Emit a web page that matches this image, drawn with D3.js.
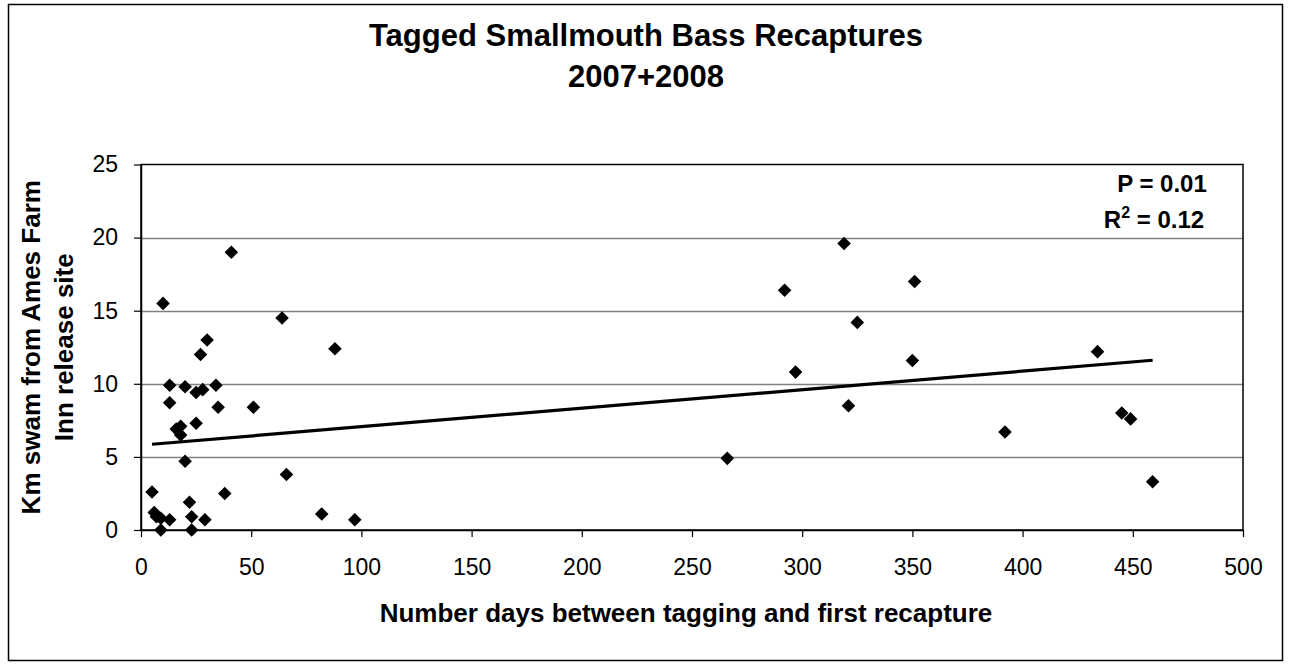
<!DOCTYPE html>
<html>
<head>
<meta charset="utf-8">
<script src="https://cdn.jsdelivr.net/npm/d3@7"></script>
<style>
  html, body { margin: 0; padding: 0; background: #fff; }
  svg { display: block; font-family: "Liberation Sans", Arial, sans-serif; }
</style>
</head>
<body>
<svg id="chart" width="1291" height="668"></svg>
<script>
// ---- data ----
const days = [41, 10, 30, 27, 13, 20, 25, 28, 34, 13, 35, 51, 25, 16, 18, 18, 20, 5, 22, 38,
              6, 7, 9, 13, 9, 23, 29, 23, 64, 66, 82, 97, 88,
              319, 292, 351, 325, 350, 297, 321, 266, 434, 392, 445, 449, 459];
const km   = [19.0, 15.5, 13.0, 12.0, 9.9, 9.8, 9.4, 9.6, 9.9, 8.7, 8.4, 8.4, 7.3, 6.9, 7.1, 6.5, 4.7, 2.6, 1.9, 2.5,
              1.2, 0.9, 0.8, 0.7, 0.0, 0.9, 0.7, 0.0, 14.5, 3.8, 1.1, 0.7, 12.4,
              19.6, 16.4, 17.0, 14.2, 11.6, 10.8, 8.5, 4.9, 12.2, 6.7, 8.0, 7.6, 3.3];
const xTicks = [0, 50, 100, 150, 200, 250, 300, 350, 400, 450, 500];
const yTicks = [0, 5, 10, 15, 20, 25];
const trendIntercept = 5.80;
const trendSlope = 0.01266;
const titleLines = ["Tagged Smallmouth Bass Recaptures", "2007+2008"];
const xTitle = "Number days between tagging and first recapture";
const yTitleLines = ["Km swam from Ames Farm", "Inn release site"];
const statP = "P = 0.01";

// ---- layout ----
const svg = d3.select("#chart");
const plot = { left: 141, right: 1243, top: 164.5, bottom: 530 };

const x = d3.scaleLinear().domain([0, 500]).range([plot.left, plot.right]);
const y = d3.scaleLinear().domain([0, 25]).range([plot.bottom, plot.top]);

// outer frame
svg.append("rect")
  .attr("x", 8.5).attr("y", 4.5).attr("width", 1274).attr("height", 656)
  .attr("fill", "#fff").attr("stroke", "#000").attr("stroke-width", 1.5);

// gridlines
svg.append("g").selectAll("line")
  .data(yTicks.filter(v => v > 0 && v < 25))
  .join("line")
  .attr("x1", plot.left).attr("x2", plot.right)
  .attr("y1", d => Math.round(y(d)) + 0.5).attr("y2", d => Math.round(y(d)) + 0.5)
  .attr("stroke", "#808080").attr("stroke-width", 1.5);

// plot border
svg.append("rect")
  .attr("x", plot.left).attr("y", plot.top)
  .attr("width", plot.right - plot.left).attr("height", plot.bottom - plot.top)
  .attr("fill", "none").attr("stroke", "#000").attr("stroke-width", 1.5);

// axes
const xAxis = svg.append("g")
  .attr("transform", `translate(0,${plot.bottom})`)
  .call(d3.axisBottom(x).tickValues(xTicks).tickSize(7).tickPadding(22).tickSizeOuter(0));
const yAxis = svg.append("g")
  .attr("transform", `translate(${plot.left},0)`)
  .call(d3.axisLeft(y).tickValues(yTicks).tickSize(7).tickPadding(16).tickSizeOuter(0));
[xAxis, yAxis].forEach(g => {
  g.select(".domain").attr("stroke", "#000").attr("stroke-width", 1.5);
  g.selectAll(".tick line").attr("stroke", "#000").attr("stroke-width", 1.2);
  g.selectAll(".tick text")
    .attr("font-family", "'Liberation Sans', Arial, sans-serif")
    .attr("font-size", 23).attr("fill", "#000");
});

// trendline
const tx = d3.extent(days);
svg.append("line")
  .attr("x1", x(tx[0])).attr("y1", y(trendIntercept + trendSlope * tx[0]))
  .attr("x2", x(tx[1])).attr("y2", y(trendIntercept + trendSlope * tx[1]))
  .attr("stroke", "#000").attr("stroke-width", 3.2);

// points (diamonds)
const diamond = d3.symbol().type(d3.symbolSquare).size(92);
svg.append("g").selectAll("path")
  .data(days.map((d, i) => [d, km[i]]))
  .join("path")
  .attr("d", diamond)
  .attr("transform", d => `translate(${x(d[0])},${y(d[1])}) rotate(45)`)
  .attr("fill", "#000");

// title
svg.append("g").selectAll("text")
  .data(titleLines)
  .join("text")
  .attr("x", 646).attr("y", (d, i) => 46 + i * 41)
  .attr("text-anchor", "middle")
  .attr("font-size", 31).attr("font-weight", "bold")
  .text(d => d);

// x title
svg.append("text")
  .attr("x", 686).attr("y", 622)
  .attr("text-anchor", "middle")
  .attr("font-size", 26).attr("font-weight", "bold")
  .text(xTitle);

// y title
svg.append("g").selectAll("text")
  .data(yTitleLines)
  .join("text")
  .attr("transform", (d, i) => `translate(${40 + i * 33},${(plot.top + plot.bottom) / 2}) rotate(-90)`)
  .attr("text-anchor", "middle")
  .attr("font-size", 26).attr("font-weight", "bold")
  .text(d => d);

// stats annotation
const stats = svg.append("g").attr("font-size", 24).attr("font-weight", "bold").attr("text-anchor", "middle");
stats.append("text").attr("x", 1162).attr("y", 192).text(statP);
const r2 = stats.append("text").attr("x", 1154).attr("y", 228);
r2.append("tspan").text("R");
r2.append("tspan").attr("dy", -10).attr("font-size", 16).text("2");
r2.append("tspan").attr("dy", 10).text(" = 0.12");
</script>
</body>
</html>
